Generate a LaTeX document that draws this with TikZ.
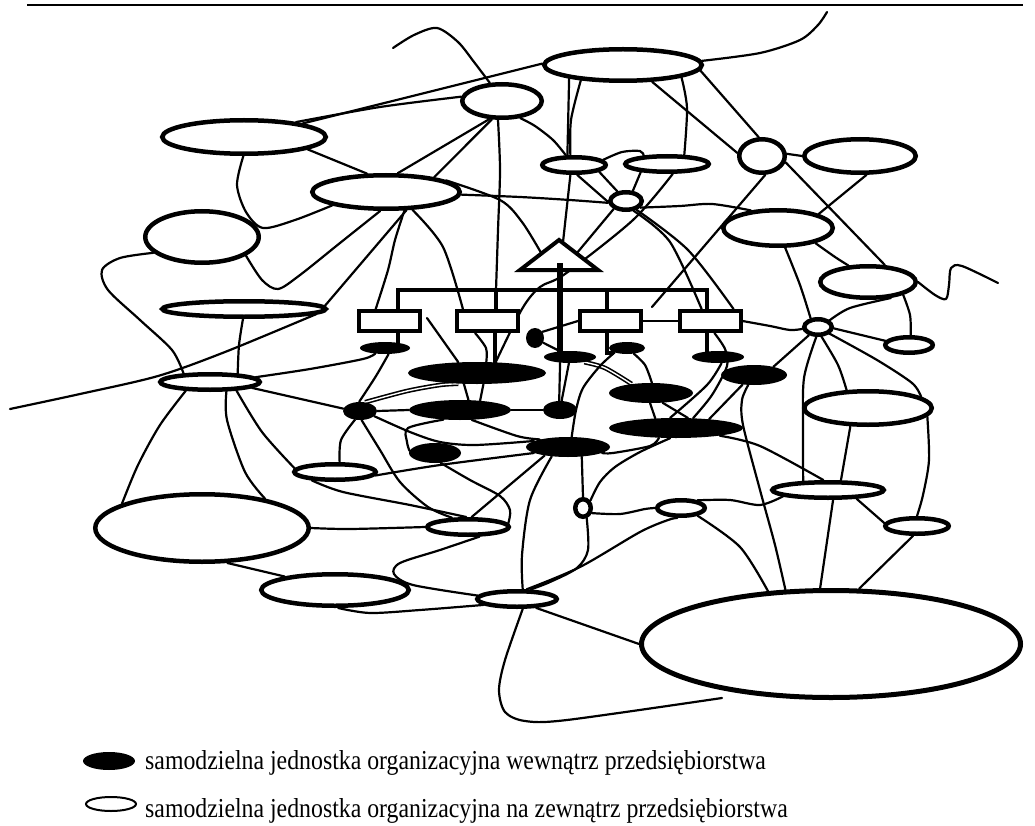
\documentclass[tikz,border=0pt]{standalone}
\usepackage{fontspec}
\setmainfont{Liberation Serif}
\usetikzlibrary{shapes.geometric,calc}
\pgfdeclarelayer{bg}
\pgfsetlayers{bg,main}
\newcommand\whiteEl[5]{\node[wo,minimum width=#4pt,minimum height=#5pt] (#1) at (#2,#3) {};}
\newcommand\blackEl[5]{\node[bk,minimum width=#4pt,minimum height=#5pt] (#1) at (#2,#3) {};}
\begin{document}
\begin{tikzpicture}[x=1pt,y=-1pt,
  wo/.style={ellipse,draw,line width=4.5pt,fill=white,inner sep=0pt},
  bk/.style={ellipse,fill=black,inner sep=0pt},
  ln/.style={line width=2.2pt,line cap=round,line join=round},
  dbl/.style={line width=1.6pt,double=white,double distance=1.4pt},
  box/.style={rectangle,draw,line width=4pt,fill=white,minimum width=61pt,minimum height=20pt,inner sep=0pt},
  frame/.style={line width=4pt},
  stemline/.style={line width=5.5pt},
  txt/.style={anchor=base west,inner sep=0pt,font=\fontsize{23.8pt}{28pt}\selectfont}
]
\useasboundingbox (0,0) rectangle (1035,826);
% header rule
\coordinate (r1) at (27,5); \coordinate (r2) at (1023,5);
\draw[line width=2pt] (r1) -- (r2);
% free ends
\coordinate (f1) at (393,48);
\coordinate (f2) at (10,409);
\coordinate (f3) at (427,318);
\coordinate (f4) at (827,12);
\coordinate (f5) at (652,307);
\coordinate (f6) at (998,283);
\coordinate (f7) at (722,698);
% white ellipses (external units)
\whiteEl{E1}{623}{65}{157.5}{31.5}
\whiteEl{E2}{502}{101}{79.5}{33.5}
\whiteEl{E3}{244}{137}{163.5}{33.5}
\whiteEl{E4}{386}{192}{147.5}{33.5}
\whiteEl{E5}{202}{237}{113.5}{51.5}
\whiteEl{E6}{244}{309}{163.5}{15.5}
\whiteEl{E7}{210}{382}{99.5}{15.5}
\whiteEl{E8}{202}{528}{213.5}{67.5}
\whiteEl{E9}{335}{472}{81.5}{15.5}
\whiteEl{E10}{335}{590}{147.5}{31.5}
\whiteEl{E11}{468}{527}{81.5}{15.5}
\whiteEl{E12}{517}{599}{79.5}{15.5}
\whiteEl{E13}{574}{165}{63.5}{15.5}
\whiteEl{E14}{667}{164}{83.5}{15.5}
\whiteEl{E15}{626}{201}{31.5}{17.5}
\whiteEl{E16}{762}{156}{45.5}{33.5}
\whiteEl{E17}{860}{156}{111.5}{33.5}
\whiteEl{E18}{778}{228}{109.5}{35.5}
\whiteEl{E19}{868}{282}{95.5}{31.5}
\whiteEl{E20}{818}{327}{27.5}{15.5}
\whiteEl{E21}{909}{345}{47.5}{15.5}
\whiteEl{E22}{868}{408}{127.5}{33.5}
\whiteEl{E23}{828}{490}{111.5}{15.5}
\whiteEl{E24}{917}{526}{63.5}{15.5}
\whiteEl{E25}{681}{508}{47.5}{15.5}
\whiteEl{E26}{583}{508}{15.5}{17.5}
\node[wo,line width=5pt,minimum width=379pt,minimum height=107pt] (E27) at (831,644) {};
% black ellipses (internal units)
\blackEl{B1}{385}{348}{50}{12}
\blackEl{B2}{477}{373}{138}{22}
\blackEl{B3}{360}{411}{34}{18}
\blackEl{B4}{460}{410}{102}{20}
\blackEl{B5}{435}{453}{52}{20}
\blackEl{B6}{535}{338}{18}{20}
\blackEl{B7}{570}{357}{52}{12}
\blackEl{B8}{560}{410}{34}{18}
\blackEl{B9}{568}{447}{84}{20}
\blackEl{B10}{627}{348}{36}{12}
\blackEl{B11}{651}{393}{84}{20}
\blackEl{B12}{676}{428}{134}{20}
\blackEl{B13}{718}{357}{52}{12}
\blackEl{B14}{754}{375}{66}{20}
% management structure
\coordinate (tA) at (559,240); \coordinate (tL) at (520,270); \coordinate (tR) at (598,270);
\draw[frame,fill=white,line join=miter] (tA) -- (tL) -- (tR) -- cycle;
\draw[stemline] (560,263) -- (560,352);
\draw[frame] (398,311) -- (398,290) -- (707,290) -- (707,311);
\draw[frame] (496,290) -- (496,311);
\draw[frame] (607,290) -- (607,311);
\draw[frame] (398,331) -- (398,343);
\draw[frame] (495,331) -- (495,364);
\draw[frame] (607,331) -- (607,353) -- (614,353);
\draw[frame] (707,331) -- (707,352);
\node[box] (R1) at (389.5,321) {};
\node[box] (R2) at (487.5,321) {};
\node[box] (R3) at (610.5,321) {};
\node[box] (R4) at (710,321) {};
\coordinate (t2) at (496,290);
% legend
\node[bk,minimum width=52pt,minimum height=18pt] (LB) at (109,761) {};
\node[ellipse,draw,line width=2pt,minimum width=50pt,minimum height=14pt,inner sep=0pt] (LW) at (111,804) {};
\node[txt] (T1) at (145,769) {\scalebox{1}[1.15]{samodzielna jednostka organizacyjna wewnątrz przedsiębiorstwa}};
\node[txt] (T2) at (145,817) {\scalebox{1}[1.15]{samodzielna jednostka organizacyjna na zewnątrz przedsiębiorstwa}};

\begin{pgfonlayer}{bg}
\draw[ln] plot[smooth] coordinates {(f1) (414,35) (437,28) (458,42) (474,62) (E2.124)};
\draw[ln] (E3.13) -- (E1.179);
\draw[ln] plot[smooth] coordinates {(E3.16) (380,107) (E2.174)};
\draw[ln] plot[smooth] coordinates {(E3.-92) (237,185) (246,212) (263,228) (295,220) (E4.194)};
\draw[ln] (E3.-11) -- (E4.136);
\draw[ln] (E2.-125) -- (E4.58);
\draw[ln] (E2.-119) -- (E4.17);
\draw[ln] plot[smooth] coordinates {(E2.-102) (500,170) (498,230) (t2)};
\draw[ln] plot[smooth] coordinates {(E4.-2) (520,197) (570,200) (E15.186)};
\draw[ln] plot[smooth] coordinates {(E4.11) (500,200) (522,222) ($(tA)!0.45!(tL)$)};
\draw[ln] plot[smooth] coordinates {(E5.-23) (262,280) (278,289) (300,275) (340,243) (E4.-107)};
\draw[ln] (E6.2) -- (E4.-42);
\draw[ln] plot[smooth] coordinates {(E4.-45) (395,240) (388,270) (R1.139)};
\draw[ln] plot[smooth] coordinates {(E4.-34) (443,247) (R2.154)};
\draw[ln] plot[smooth] coordinates {(E5.-162) (120,258) (102,270) (108,290) (140,320) (172,350) (E7.162)};
\draw[ln] plot[smooth] coordinates {(E6.-96) (239,345) (E7.17)};
\draw[ln] plot[smooth] coordinates {(f2) (80,394) (158,376) (225,352) (E6.-4)};
\draw[ln] plot[smooth] coordinates {(E7.6) (310,369) (363,359) (B1.-150)};
\draw[ln] plot[smooth] coordinates {(B1.-60) (376,376) (B3.95)};
\draw[ln] (f3) -- (B2.150);
\draw[ln] plot[smooth] coordinates {(R2.-136) (486,348) (B2.50)};
\draw[ln] plot[smooth] coordinates {(E14.-60) (633,220) (565,274) (540,287) (522,309) (B2.30)};
\draw[ln] (E15.-147) -- ($(tA)!0.45!(tR)$);
\draw[ln] (E1.-166) -- (E13.124);
\draw[ln] plot[smooth] coordinates {(E1.-160) (571,120) (E13.110)};
\draw[ln] (E13.-110) -- ($(tA)!0.1!(tR)$);
\draw[ln] (E1.-30) -- (E16.173);
\draw[ln] (E1.-4) -- (E16.100);
\draw[ln] plot[smooth] coordinates {(E1.-12) (687,108) (E14.28)};
\draw[ln] plot[smooth] coordinates {(E1.3) (760,53) (800,40) (818,25) (f4)};
\draw[ln] (E16.5) -- (E17.180);
\draw[ln] (E16.-15) -- (E19.45);
\draw[ln] (E16.-80) -- (f5);
\draw[ln] (E17.-71) -- (E18.19);
\draw[ln] plot[smooth] coordinates {(E13.10) (622,152) (640,151) (E14.160)};
\draw[ln] (E13.-72) -- (E15.183);
\draw[ln] (E13.-15) -- (E15.132);
\draw[ln] (E14.-163) -- (E15.56);
\draw[ln] plot[smooth] coordinates {(E2.-43) (535,126) (553,140) (E13.130)};
\draw[ln] plot[smooth] coordinates {(E15.-25) (680,206) (712,204) (E18.147)};
\draw[ln] plot[smooth] coordinates {(E15.-52) (670,242) (R4.125)};
\draw[ln] plot[smooth] coordinates {(E15.-40) (688,250) (R4.27)};
\draw[ln] (R3.east) -- (R4.west);
\draw[ln] plot[smooth] coordinates {(R4.east) (770,326) (790,330) (E20.187)};
\draw[ln] (B6.40) -- (R3.west);
\draw[ln] (B6.-30) -- (B7.150);
\draw[ln] (B7.-150) -- (B8.95);
\draw[ln] (B7.-100) -- (B8.80);
\draw[dbl] plot[smooth] coordinates {(B7.-20) (605,368) (B11.155)};
\draw[ln] (B2.-140) -- (B4.50);
\draw[ln] (B2.-60) -- (B4.25);
\draw[dbl] plot[smooth] coordinates {(B3.60) (407,391) (440,385) (B2.-150)};
\draw[ln] (B3.east) -- (B4.west);
\draw[ln] (B3.172) -- (E7.-8);
\draw[ln] plot[smooth] coordinates {(B3.-120) (341,440) (E9.65)};
\draw[ln] plot[smooth] coordinates {(B3.-80) (380,450) (400,482) (428,507) (E11.150)};
\draw[ln] plot[smooth] coordinates {(B3.-20) (410,432) (440,442) (475,445) (B9.170)};
\draw[ln] plot[smooth] coordinates {(B4.-150) (408,428) (407,442) (B5.175)};
\draw[ln] (B4.east) -- (B8.west);
\draw[ln] plot[smooth] coordinates {(B4.-40) (517,436) (B9.165)};
\draw[ln] plot[smooth] coordinates {(B5.-60) (470,480) (500,496) (510,510) (E11.5)};
\draw[ln] plot[smooth] coordinates {(E9.-5) (440,465) (B9.190)};
\draw[ln] plot[smooth] coordinates {(E9.-160) (343,492) (410,505) (E11.100)};
\draw[ln] plot[smooth] coordinates {(E8.east) (350,529) (E11.west)};
\draw[ln] (E11.70) -- (B9.-160);
\draw[ln] plot[smooth] coordinates {(E11.-40) (440,550) (400,563) (394,574) (413,585) (E12.175)};
\draw[ln] plot[smooth] coordinates {(E10.-80) (370,613) (420,610) (E12.190)};
\draw[ln] (E8.-54) -- (E10.165);
\draw[ln] plot[smooth] coordinates {(E7.-160) (160,425) (138,465) (E8.163)};
\draw[ln] plot[smooth] coordinates {(E7.-30) (227,420) (245,472) (E8.25)};
\draw[ln] plot[smooth] coordinates {(E7.-18) (262,432) (E9.175)};
\draw[ln] plot[smooth] coordinates {(B9.-150) (530,500) (522,555) (E12.60)};
\draw[ln] (B9.-35) -- (E26.north);
\draw[ln] plot[smooth] coordinates {(E26.-70) (588,550) (577,568) (550,582) (E12.35)};
\draw[ln] plot[smooth] coordinates {(E26.-30) (620,514) (645,509) (E25.west)};
\draw[ln] plot[smooth] coordinates {(E26.45) (600,482) (615,467) (640,452) (B12.-120)};
\draw[ln] plot[smooth] coordinates {(B12.-10) (760,446) (E23.115)};
\draw[ln] plot[smooth] coordinates {(B14.-120) (742,400) (743,425) (760,490) (775,545) (E27.130)};
\draw[ln] (B14.-140) -- (B12.15);
\draw[ln] (E20.-138) -- (B14.23);
\draw[ln] plot[smooth] coordinates {(E20.-100) (804,378) (803,430) (E23.160)};
\draw[ln] plot[smooth] coordinates {(E20.-70) (838,365) (E22.140)};
\draw[ln] (E20.-5) -- (E21.170);
\draw[ln] plot[smooth] coordinates {(E20.-30) (877,360) (912,383) (E22.12)};
\draw[ln] plot[smooth] coordinates {(E19.-20) (910,315) (E21.80)};
\draw[ln] plot[smooth] coordinates {(E19.-35) (850,308) (E20.30)};
\draw[ln] plot[smooth,tension=0.5] coordinates {(E19.east) (935,295) (946,299) (949,285) (951,268) (962,266) (f6)};
\draw[ln] plot[smooth] coordinates {(E18.-70) (800,285) (E20.130)};
\draw[ln] plot[smooth] coordinates {(E18.-22) (835,257) (E19.140)};
\draw[ln] plot[smooth] coordinates {(E22.-8) (929,460) (923,495) (E24.90)};
\draw[ln] (E22.-134) -- (E23.37);
\draw[ln] (E23.-63) -- (E27.101);
\draw[ln] (E23.-17) -- (E24.175);
\draw[ln] (E24.-112) -- (E27.63);
\draw[ln] plot[smooth] coordinates {(E25.25) (730,500) (760,505) (E23.-172)};
\draw[ln] plot[smooth] coordinates {(E25.-25) (740,547) (E27.140)};
\draw[ln] plot[smooth] coordinates {(E12.45) (580,567) (640,532) (668,520) (E25.-110)};
\draw[ln] plot[smooth] coordinates {(E12.-60) (505,660) (499,690) (505,712) (525,721) (567,720) (f7)};
\draw[ln] (E12.-25) -- (E27.180);
\draw[ln] plot[smooth] coordinates {(B9.-10) (613,453) (650,446) (B12.-150)};
\draw[ln] plot[smooth] coordinates {(B10.-160) (600,366) (583,388) (576,410) (B9.70)};
\draw[ln] plot[smooth] coordinates {(B10.-40) (645,365) (B11.85)};
\draw[ln] (B11.-95) -- (B12.155);
\draw[ln] (B11.-40) -- (B12.40);
\draw[ln] plot[smooth] coordinates {(R4.-70) (725,349) (727,366) (712,395) (B12.30)};
\draw[ln] plot[smooth] coordinates {(B13.-60) (707,385) (B12.120)};
\end{pgfonlayer}
\end{tikzpicture}
\end{document}
